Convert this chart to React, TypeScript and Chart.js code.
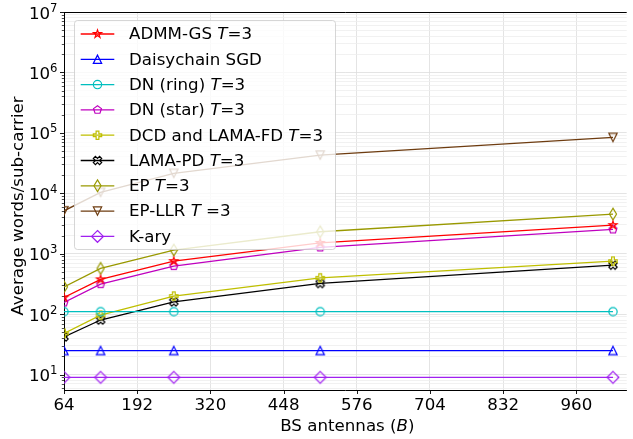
import React, { useEffect, useRef } from 'react';
import { Chart, registerables } from 'chart.js';

Chart.register(...registerables);

// ---------- data ----------
const antennas = [64, 128, 256, 512, 1024];
const admmGS = [189, 376, 754, 1510, 2970];
const daisychainSGD = [25, 25, 25, 25, 25];
const dnRing = [110, 110, 110, 110, 110];
const dnStar = [156, 314, 624, 1270, 2520];
const dcdLamaFD = [48, 96, 199, 399, 754];
const lamaPD = [42, 80, 160, 322, 647];
const ep = [283, 571, 1150, 2310, 4530];
const epLLR = [5130, 10360, 21400, 42900, 84100];
const kAry = [9, 9, 9, 9, 9];

const xTickValues = [64, 192, 320, 448, 576, 704, 832, 960];
const yDecadeExponents = [1, 2, 3, 4, 5, 6, 7];
const yTickBase = '10';

// legend entries: [plain, italic, rest]
const seriesNames: [string, string, string][] = [
  ['ADMM-GS ', 'T', '=3'],
  ['Daisychain SGD', '', ''],
  ['DN (ring) ', 'T', '=3'],
  ['DN (star) ', 'T', '=3'],
  ['DCD and LAMA-FD ', 'T', '=3'],
  ['LAMA-PD ', 'T', '=3'],
  ['EP ', 'T', '=3'],
  ['EP-LLR ', 'T', ' =3'],
  ['K-ary', '', ''],
];
const seriesData = [admmGS, daisychainSGD, dnRing, dnStar, dcdLamaFD, lamaPD, ep, epLLR, kAry];
const seriesColors = ['#ff0000', '#0000ff', '#00bfbf', '#bf00bf', '#bfbf00', '#000000', '#999900', '#6e3c10', '#a020f0'];
const seriesShapes = ['star', 'triUp', 'circle', 'pentagon', 'plusFilled', 'xFilled', 'thinDiamond', 'triDown', 'diamond'];

const FONT = 'DejaVu Sans';
const FS = 16.67;
const MS = 8.33;

function tracePath(ctx: CanvasRenderingContext2D, shape: string, cx: number, cy: number, ms: number) {
  const r = ms / 2;
  ctx.beginPath();
  const poly = (pts: number[][], s: number) => {
    pts.forEach((p, i) => {
      const x = cx + p[0] * s;
      const y = cy + p[1] * s;
      if (i === 0) ctx.moveTo(x, y); else ctx.lineTo(x, y);
    });
    ctx.closePath();
  };
  switch (shape) {
    case 'circle':
      ctx.arc(cx, cy, r, 0, Math.PI * 2);
      break;
    case 'triUp':
      poly([[0, -1], [-1, 1], [1, 1]], r);
      break;
    case 'triDown':
      poly([[0, 1], [-1, -1], [1, -1]], r);
      break;
    case 'star': {
      const pts: number[][] = [];
      for (let i = 0; i < 10; i++) {
        const a = -Math.PI / 2 + (i * Math.PI) / 5;
        const rr = i % 2 === 0 ? 1 : 0.381966;
        pts.push([Math.cos(a) * rr, Math.sin(a) * rr]);
      }
      poly(pts, r);
      break;
    }
    case 'pentagon': {
      const pts: number[][] = [];
      for (let i = 0; i < 5; i++) {
        const a = -Math.PI / 2 + (i * 2 * Math.PI) / 5;
        pts.push([Math.cos(a), Math.sin(a)]);
      }
      poly(pts, r);
      break;
    }
    case 'diamond': {
      const d = 0.7071 * ms;
      poly([[0, -1], [1, 0], [0, 1], [-1, 0]], d);
      break;
    }
    case 'thinDiamond': {
      const d = 0.7071 * ms;
      poly([[0, -1], [0.6, 0], [0, 1], [-0.6, 0]], d);
      break;
    }
    case 'plusFilled':
      poly([[-1, -3], [1, -3], [1, -1], [3, -1], [3, 1], [1, 1], [1, 3], [-1, 3], [-1, 1], [-3, 1], [-3, -1], [-1, -1]], ms / 6);
      break;
    case 'xFilled':
      poly([[-1, -2], [0, -1], [1, -2], [2, -1], [1, 0], [2, 1], [1, 2], [0, 1], [-1, 2], [-2, 1], [-1, 0], [-2, -1]], ms / 4);
      break;
  }
}

function makeMarker(shape: string, color: string): HTMLCanvasElement {
  const c = document.createElement('canvas');
  c.width = 20;
  c.height = 20;
  const ctx = c.getContext('2d')!;
  ctx.strokeStyle = color;
  ctx.lineWidth = 1.2;
  ctx.lineJoin = 'miter';
  tracePath(ctx, shape, 10, 10, MS);
  ctx.stroke();
  return c;
}

const decorPlugin = {
  id: 'decor',
  afterDraw(chart: any) {
    const ctx: CanvasRenderingContext2D = chart.ctx;
    const area = chart.chartArea;
    const xs = chart.scales.x;
    const ys = chart.scales.y;
    const normal = `${FS}px '${FONT}'`;
    const italic = `italic ${FS}px '${FONT}'`;
    const small = `${FS * 0.7}px '${FONT}'`;
    ctx.save();
    // top spine
    ctx.strokeStyle = '#000';
    ctx.lineWidth = 1;
    ctx.beginPath();
    ctx.moveTo(area.left, area.top + 0.5);
    ctx.lineTo(area.right, area.top + 0.5);
    ctx.stroke();
    // x tick marks
    ctx.lineWidth = 0.9;
    xTickValues.forEach((v) => {
      const px = Math.round(xs.getPixelForValue(v)) + 0.5;
      ctx.beginPath();
      ctx.moveTo(px, area.bottom);
      ctx.lineTo(px, area.bottom + 4);
      ctx.stroke();
    });
    // y tick marks
    for (let e = 0; e <= 7; e++) {
      for (let m = 1; m <= 9; m++) {
        const v = m * Math.pow(10, e);
        if (v < ys.min || v > ys.max) continue;
        const py = Math.round(ys.getPixelForValue(v)) + 0.5;
        const len = m === 1 ? 4 : 2.2;
        ctx.lineWidth = m === 1 ? 0.9 : 0.7;
        ctx.beginPath();
        ctx.moveTo(area.left, py);
        ctx.lineTo(area.left - len, py);
        ctx.stroke();
      }
    }
    // y tick labels 10^n
    ctx.fillStyle = '#000';
    ctx.textBaseline = 'alphabetic';
    ctx.textAlign = 'left';
    yDecadeExponents.forEach((e) => {
      const py = ys.getPixelForValue(Math.pow(10, e));
      const expStr = String(e);
      ctx.font = small;
      const ew = ctx.measureText(expStr).width;
      ctx.font = normal;
      const bw = ctx.measureText(yTickBase).width;
      const right = 57.5;
      ctx.fillText(yTickBase, right - ew - bw, py + 6.5);
      ctx.font = small;
      ctx.fillText(expStr, right - ew, py - 0.5);
    });

    // axis titles
    ctx.textBaseline = 'middle';
    const parts: [string, string][] = [['BS antennas (', normal], ['B', italic], [')', normal]];
    let total = 0;
    parts.forEach(([t, f]) => { ctx.font = f; total += ctx.measureText(t).width; });
    let x = (area.left + area.right) / 2 - total / 2 + 2;
    parts.forEach(([t, f]) => {
      ctx.font = f;
      ctx.textAlign = 'left';
      ctx.fillText(t, x, 427);
      x += ctx.measureText(t).width;
    });
    ctx.save();
    ctx.translate(19, 206);
    ctx.rotate(-Math.PI / 2);
    ctx.font = normal;
    ctx.textAlign = 'center';
    ctx.fillText('Average words/sub-carrier', 0, 0);
    ctx.restore();

    // legend
    const lx = 74.5, ly = 20.5, lw = 261, lh = 229, rad = 3;
    ctx.beginPath();
    ctx.moveTo(lx + rad, ly);
    ctx.lineTo(lx + lw - rad, ly);
    ctx.quadraticCurveTo(lx + lw, ly, lx + lw, ly + rad);
    ctx.lineTo(lx + lw, ly + lh - rad);
    ctx.quadraticCurveTo(lx + lw, ly + lh, lx + lw - rad, ly + lh);
    ctx.lineTo(lx + rad, ly + lh);
    ctx.quadraticCurveTo(lx, ly + lh, lx, ly + lh - rad);
    ctx.lineTo(lx, ly + rad);
    ctx.quadraticCurveTo(lx, ly, lx + rad, ly);
    ctx.closePath();
    ctx.fillStyle = 'rgba(255,255,255,0.8)';
    ctx.fill();
    ctx.strokeStyle = 'rgba(204,204,204,0.8)';
    ctx.lineWidth = 1;
    ctx.stroke();

    seriesNames.forEach((name, i) => {
      const cy = 34 + i * 25.3;
      const color = seriesColors[i];
      ctx.strokeStyle = color;
      ctx.lineWidth = 1.3;
      ctx.beginPath();
      ctx.moveTo(80.7, cy);
      ctx.lineTo(114.3, cy);
      ctx.stroke();
      ctx.lineWidth = 1.2;
      tracePath(ctx, seriesShapes[i], 97.5, cy, MS);
      ctx.stroke();
      ctx.fillStyle = '#000';
      ctx.textAlign = 'left';
      ctx.textBaseline = 'middle';
      let tx = 129;
      const segs: [string, string][] = [[name[0], normal], [name[1], italic], [name[2], normal]];
      segs.forEach(([t, f]) => {
        if (!t) return;
        ctx.font = f;
        ctx.fillText(t, tx, cy + 1);
        tx += ctx.measureText(t).width;
      });
    });
    ctx.restore();
  },
};

export default function App() {
  const ref = useRef<HTMLCanvasElement>(null);
  useEffect(() => {
    if (!ref.current) return;
    const yTicks: number[] = [];
    for (let e = 0; e <= 7; e++) {
      for (let m = 1; m <= 9; m++) {
        const v = m * Math.pow(10, e);
        if (v >= 5.56 && v <= 1e7) yTicks.push(v);
      }
    }
    const datasets = seriesData.map((d, i) => ({
      label: seriesNames[i].join(''),
      data: d.map((v, j) => ({ x: antennas[j], y: v })),
      borderColor: seriesColors[i],
      backgroundColor: seriesColors[i],
      borderWidth: 1.3,
      pointStyle: makeMarker(seriesShapes[i], seriesColors[i]) as any,
      pointRadius: 5,
      tension: 0,
      clip: 0,
    }));
    const chart = new Chart(ref.current, {
      type: 'line',
      data: { datasets },
      options: {
        animation: false,
        responsive: false,
        maintainAspectRatio: false,
        layout: { padding: { top: 12, right: 0, left: 0, bottom: 0 } },
        plugins: { legend: { display: false }, tooltip: { enabled: false } },
        scales: {
          x: {
            type: 'linear',
            min: 64,
            max: 1048,
            afterBuildTicks: (s: any) => { s.ticks = xTickValues.map((v) => ({ value: v })); },
            afterFit: (s: any) => { s.height = 49; },
            ticks: {
              autoSkip: false,
              maxRotation: 0,
              padding: 6,
              color: '#000',
              font: { family: FONT, size: FS },
              callback: (v: any) => String(v),
            },
            grid: { color: '#dddddd', lineWidth: 0.8, drawTicks: false },
            border: { display: true, color: '#000', width: 1 },
          },
          y: {
            type: 'logarithmic',
            min: 5.56,
            max: 1e7,
            afterBuildTicks: (s: any) => { s.ticks = yTicks.map((v) => ({ value: v })); },
            afterFit: (s: any) => { s.width = 64; },
            ticks: { display: false, autoSkip: false },
            grid: {
              drawTicks: false,
              lineWidth: 0.8,
              color: (c: any) => {
                const v = c.tick?.value ?? 1;
                const e = Math.round(Math.log10(v));
                return Math.abs(Math.pow(10, e) - v) < 1e-6 * v ? '#dddddd' : '#eeeeee';
              },
            },
            border: { display: true, color: '#000', width: 1 },
          },
        },
      },
      plugins: [decorPlugin],
    });
    return () => chart.destroy();
  }, []);
  return (
    <div style={{ position: 'fixed', left: 0, top: 0, width: 633, height: 439, background: '#fff' }}>
      <canvas ref={ref} width={633} height={439} />
    </div>
  );
}
